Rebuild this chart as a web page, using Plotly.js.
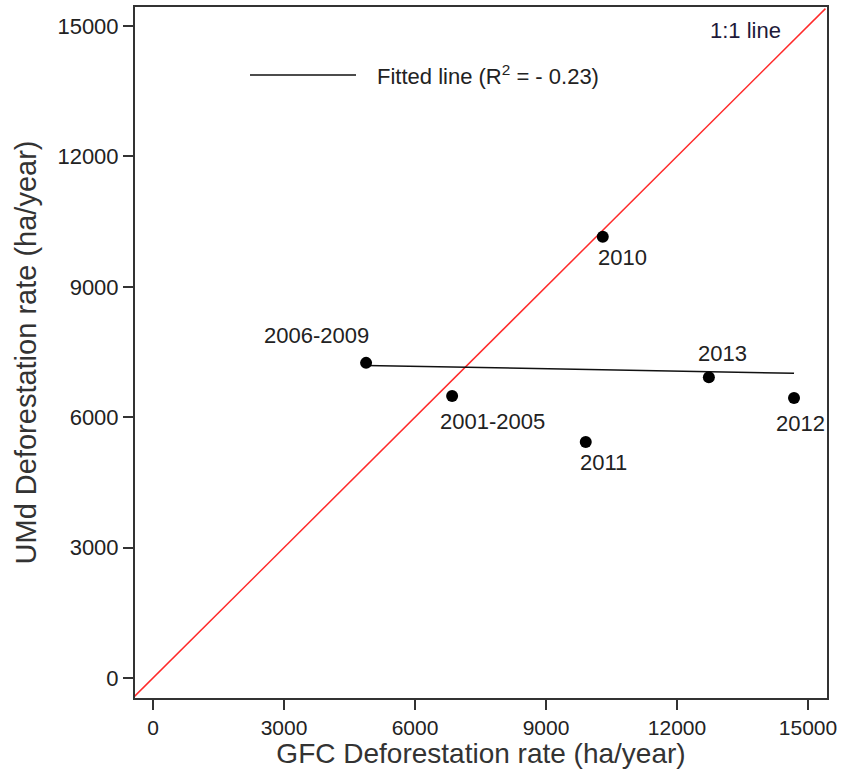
<!DOCTYPE html>
<html>
<head>
<meta charset="utf-8">
<script src="https://cdn.plot.ly/plotly-3.0.1.min.js"></script>
<style>html,body{margin:0;padding:0;background:#fff;}#chart{width:841px;height:769px;}</style>
</head>
<body>
<div id="chart"></div>
<script>
// Data
const periods = ["2006-2009", "2001-2005", "2011", "2012", "2010", "2013"];
const gfcRate = [4880, 6850, 9910, 14680, 10300, 12730];
const umdRate = [7250, 6490, 5430, 6440, 10150, 6920];
const fitX = [4880, 14680];
const fitY = [7190, 7010];
const oneToOneX = [-460, 15400];
const oneToOneY = [-460, 15400];
const xTicks = [0, 3000, 6000, 9000, 12000, 15000];
const yTicks = [0, 3000, 6000, 9000, 12000, 15000];
const fitLabel = "Fitted line (R<sup>2</sup> = - 0.23)";
const lineLabel = "1:1 line";

const FONT = "Liberation Sans, Arial, sans-serif";
const TXT = "#222";

// label placement (pixel shifts from each point)
const labelShift = {
  "2006-2009": [-50, 27],
  "2001-2005": [40, -26],
  "2011": [18, -21],
  "2012": [6, -25],
  "2010": [20, -21],
  "2013": [14, 24]
};

const traces = [
  {x: oneToOneX, y: oneToOneY, mode: "lines", line: {color: "#ff2a2a", width: 1.5}, hoverinfo: "skip"},
  {x: fitX, y: fitY, mode: "lines", line: {color: "#111", width: 1.5}},
  {x: gfcRate, y: umdRate, mode: "markers", marker: {color: "#000", size: 12}}
];

const annotations = periods.map((p, i) => ({
  x: gfcRate[i], y: umdRate[i], xref: "x", yref: "y",
  text: p, showarrow: false,
  xshift: labelShift[p][0], yshift: labelShift[p][1],
  font: {family: FONT, size: 22, color: TXT}
}));
annotations.push({
  xref: "paper", yref: "paper", x: (375 - 135) / 692, y: 1 - (75 - 7) / 691,
  xanchor: "left", yanchor: "middle", text: fitLabel, showarrow: false,
  font: {family: FONT, size: 22, color: TXT}
});
annotations.push({
  xref: "paper", yref: "paper", x: (745 - 135) / 692, y: 1 - (30 - 7) / 691,
  xanchor: "center", yanchor: "middle", text: lineLabel, showarrow: false,
  font: {family: FONT, size: 22, color: "#1e1a3a"}
});

const layout = {
  width: 841, height: 769,
  paper_bgcolor: "#fff", plot_bgcolor: "#fff",
  showlegend: false,
  margin: {l: 135, r: 14, t: 7, b: 71},
  font: {family: FONT, color: TXT},
  xaxis: {
    range: [-412, 15435], tickvals: xTicks, ticktext: xTicks.map(String),
    showgrid: false, zeroline: false,
    showline: true, linecolor: "#333", linewidth: 2, mirror: true,
    ticks: "outside", ticklen: 10, tickwidth: 2, tickcolor: "#333",
    tickfont: {family: FONT, size: 21, color: TXT},
    title: {text: "GFC Deforestation rate (ha/year)", font: {family: FONT, size: 28, color: "#333"}, standoff: 2}
  },
  yaxis: {
    range: [-460, 15437], tickvals: yTicks, ticktext: yTicks.map(String),
    showgrid: false, zeroline: false,
    showline: true, linecolor: "#333", linewidth: 2, mirror: true,
    ticks: "outside", ticklen: 10, tickwidth: 2, tickcolor: "#333",
    tickfont: {family: FONT, size: 22, color: TXT},
    title: {text: "UMd Deforestation rate (ha/year)", font: {family: FONT, size: 29, color: "#333"}, standoff: 12}
  },
  shapes: [{
    type: "line", xref: "paper", yref: "paper",
    x0: (250 - 135) / 692, x1: (356 - 135) / 692,
    y0: 1 - (75 - 7) / 691, y1: 1 - (75 - 7) / 691,
    line: {color: "#111", width: 1.5}
  }],
  annotations: annotations
};

Plotly.newPlot("chart", traces, layout, {displayModeBar: false, staticPlot: true});
</script>
</body>
</html>
